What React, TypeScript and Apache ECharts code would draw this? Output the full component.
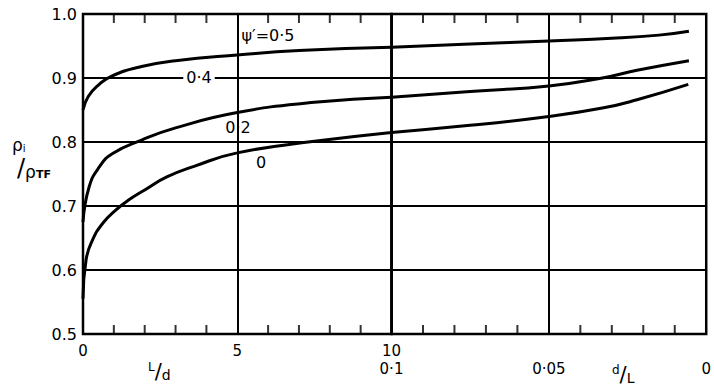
import React, { useEffect, useRef } from "react";
import * as echarts from "echarts";

// Left part of the x-axis: L/d from 0 to 10
const curve05Ld = [[0, 0.85], [0.17, 0.871], [0.5, 0.889], [0.93, 0.903], [1.9, 0.918], [3.0, 0.927], [5, 0.936], [7, 0.943], [10, 0.948]];
const curve02Ld = [[0, 0.675], [0.2, 0.73], [0.53, 0.761], [0.96, 0.782], [1.9, 0.803], [3.0, 0.822], [5, 0.846], [7.5, 0.862], [10, 0.870]];
const curve0Ld = [[0, 0.555], [0.1, 0.616], [0.31, 0.647], [0.64, 0.673], [1.07, 0.694], [1.5, 0.71], [2, 0.725], [2.7, 0.745], [3.6, 0.762], [5, 0.783], [7.5, 0.801], [10, 0.815]];
// Right part of the x-axis: d/L from 0.1 to 0
const curve05dL = [[0.1, 0.948], [0.075, 0.953], [0.05, 0.958], [0.03, 0.962], [0.015, 0.967], [0.0055, 0.973]];
const curve02dL = [[0.1, 0.870], [0.075, 0.879], [0.05, 0.8875], [0.033, 0.9], [0.022, 0.912], [0.0055, 0.927]];
const curve0dL = [[0.1, 0.815], [0.075, 0.826], [0.05, 0.840], [0.033, 0.853], [0.022, 0.866], [0.0057, 0.890]];

// minor tick positions
const ldMinorTicks = [1, 2, 3, 4, 6, 7, 8, 9];
const dlMinorTicks = [0.09, 0.08, 0.07, 0.06, 0.04, 0.03, 0.02, 0.01];

const yTicks = [0.5, 0.6, 0.7, 0.8, 0.9, 1.0];
const ldLabels: Record<string, string> = { "0": "0", "5": "5" };
const dlLabels: Record<string, string> = { "0.1": "10\n0·1", "0.05": "\n0·05", "0": "\n0" };
const curveLabels = [
  { text: "ψ′=0·5", x: 268, y: 35 },
  { text: "0·4", x: 199, y: 77 },
  { text: "0·2", x: 238, y: 127 },
  { text: "0", x: 261, y: 162 },
];

const FONT = "DejaVu Sans";

export default function App() {
  const ref = useRef<HTMLDivElement>(null);
  useEffect(() => {
    if (!ref.current) return;
    const chart = echarts.init(ref.current, undefined, { renderer: "svg" });
    const lineStyle = { color: "#000", width: 3 };
    const mkLine = (data: number[][], idx: number) => ({
      type: "line",
      data,
      xAxisIndex: idx,
      yAxisIndex: idx,
      showSymbol: false,
      smooth: 0.5,
      lineStyle,
      silent: true,
      z: 5,
    });
    const mkTicks = (xs: number[], idx: number, y: number, offset: number) => ({
      type: "scatter",
      data: xs.map((x) => [x, y]),
      xAxisIndex: idx,
      yAxisIndex: idx,
      symbol: "rect",
      symbolSize: [2, 9],
      symbolOffset: [0, offset],
      itemStyle: { color: "#000" },
      silent: true,
      z: 6,
    });
    const labelBase = { color: "#000", fontSize: 15, lineHeight: 18, fontFamily: FONT, showMaxLabel: true, showMinLabel: true, margin: 8 };
    const option: any = {
      animation: false,
      grid: [
        { left: 83, top: 14, width: 308.5, height: 320, show: true, borderColor: "#000", borderWidth: 2.5, backgroundColor: "transparent" },
        { left: 391.5, top: 14, width: 320, height: 320, show: true, borderColor: "#000", borderWidth: 2.5, backgroundColor: "transparent" },
      ],
      xAxis: [
        {
          type: "value", gridIndex: 0, position: "bottom", min: 0, max: 10, interval: 5,
          axisLine: { show: false }, axisTick: { show: false },
          axisLabel: { ...labelBase, formatter: (v: number) => ldLabels[String(v)] ?? "" },
          splitLine: { show: true, lineStyle: { color: "#000", width: 2 } },
        },
        {
          type: "value", gridIndex: 1, position: "bottom", min: 0, max: 0.1, interval: 0.05, inverse: true,
          axisLine: { show: false }, axisTick: { show: false },
          axisLabel: { ...labelBase, formatter: (v: number) => dlLabels[String(+v.toFixed(2))] ?? "" },
          splitLine: { show: true, lineStyle: { color: "#000", width: 2 } },
        },
      ],
      yAxis: [
        {
          type: "value", gridIndex: 0, min: yTicks[0], max: yTicks[yTicks.length - 1], interval: 0.1,
          axisLine: { show: false }, axisTick: { show: false },
          axisLabel: { color: "#000", fontSize: 16, fontFamily: FONT, margin: 6, formatter: (v: number) => v.toFixed(1) },
          splitLine: { show: true, lineStyle: { color: "#000", width: 2 } },
        },
        {
          type: "value", gridIndex: 1, min: yTicks[0], max: yTicks[yTicks.length - 1], interval: 0.1,
          axisLine: { show: false }, axisTick: { show: false }, axisLabel: { show: false },
          splitLine: { show: true, lineStyle: { color: "#000", width: 2 } },
        },
      ],
      series: [
        mkLine(curve05Ld, 0),
        mkLine(curve02Ld, 0),
        mkLine(curve0Ld, 0),
        mkLine(curve05dL, 1),
        mkLine(curve02dL, 1),
        mkLine(curve0dL, 1),
        mkTicks(ldMinorTicks, 0, yTicks[0], -4.5),
        mkTicks(ldMinorTicks, 0, yTicks[yTicks.length - 1], 4.5),
        mkTicks(dlMinorTicks, 1, yTicks[0], -4.5),
        mkTicks(dlMinorTicks, 1, yTicks[yTicks.length - 1], 4.5),
      ],
      graphic: [
        ...curveLabels.map((l, i) => ({
          type: "text",
          x: l.x,
          y: l.y,
          z: 10,
          style: {
            text: l.text,
            fill: "#000",
            font: `16px '${FONT}'`,
            align: "center",
            verticalAlign: "middle",
            backgroundColor: i === 1 ? "#fff" : undefined,
            padding: i === 1 ? [0, 3] : 0,
          },
        })),
        // y-axis title  ρi / ρTF
        {
          type: "text", x: 12, y: 136,
          style: {
            text: "{b|ρ}{s|i}",
            rich: {
              b: { fontSize: 17, fontFamily: FONT, fill: "#000", verticalAlign: "top" },
              s: { fontSize: 10, fontFamily: FONT, fill: "#000", verticalAlign: "bottom" },
            },
          },
        },
        {
          type: "text", x: 17, y: 156,
          style: {
            text: "{sl|/}{b|ρ}{t|TF}",
            rich: {
              sl: { fontSize: 24, fontFamily: FONT, fill: "#000", verticalAlign: "middle" },
              b: { fontSize: 17, fontFamily: FONT, fill: "#000", verticalAlign: "bottom" },
              t: { fontSize: 11, fontWeight: "bold", fontFamily: FONT, fill: "#000", verticalAlign: "bottom" },
            },
          },
        },
        // x-axis titles  L/d  and  d/L
        {
          type: "text", x: 148, y: 361,
          style: {
            text: "{a|L}{sl|/}{c|d}",
            rich: {
              a: { fontSize: 12, fontFamily: FONT, fill: "#000", verticalAlign: "top" },
              sl: { fontSize: 21, fontFamily: FONT, fill: "#000", verticalAlign: "middle" },
              c: { fontSize: 14, fontFamily: FONT, fill: "#000", verticalAlign: "bottom" },
            },
          },
        },
        {
          type: "text", x: 612, y: 364,
          style: {
            text: "{a|d}{sl|/}{c|L}",
            rich: {
              a: { fontSize: 12, fontFamily: FONT, fill: "#000", verticalAlign: "top" },
              sl: { fontSize: 21, fontFamily: FONT, fill: "#000", verticalAlign: "middle" },
              c: { fontSize: 14, fontFamily: FONT, fill: "#000", verticalAlign: "bottom" },
            },
          },
        },
      ],
    };
    chart.setOption(option);
    return () => chart.dispose();
  }, []);
  return <div ref={ref} style={{ width: 714, height: 391, position: "absolute", left: 0, top: 0, background: "#fff" }} />;
}
